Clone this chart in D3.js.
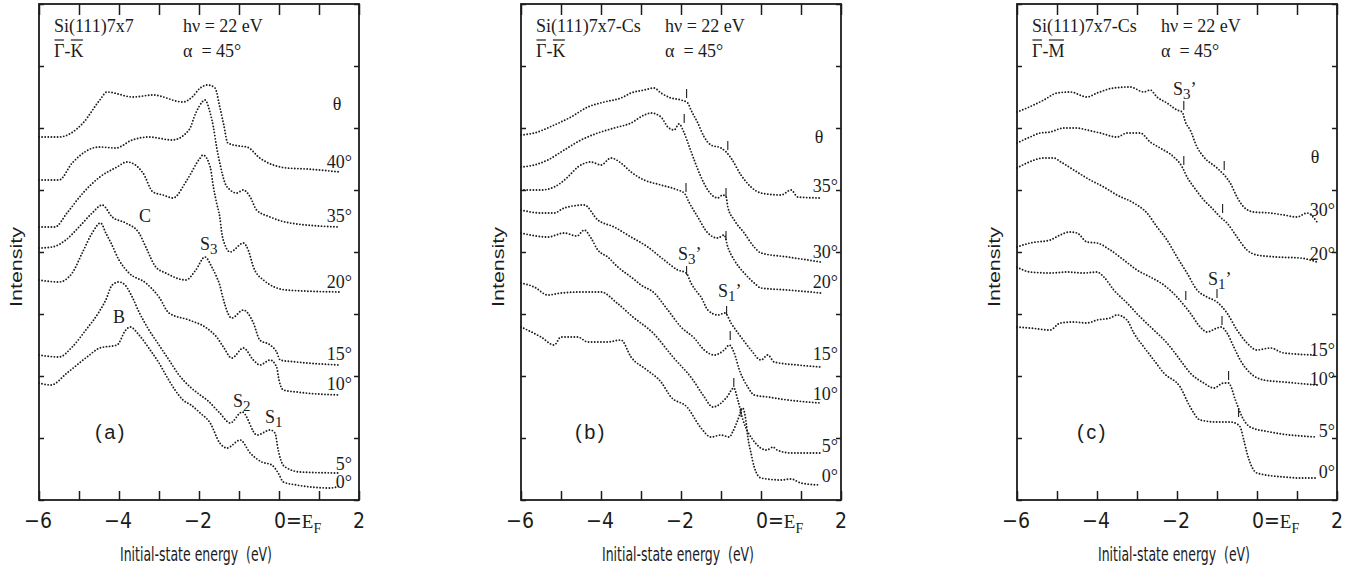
<!DOCTYPE html>
<html>
<head>
<meta charset="utf-8">
<script src="https://cdn.jsdelivr.net/npm/d3@7"></script>
<style>
  html, body { margin: 0; padding: 0; background: #fff; }
  svg { display: block; }
</style>
</head>
<body>
<svg id="chart" width="1356" height="571"></svg>
<script>
// ---- energy axis (eV, relative to E_F) ----
const energyTicks = [-6, -5, -4, -3, -2, -1, 0, 1, 2];
const energyLabels = [-6, -4, -2, 0, 2];
// intensity in arbitrary units; every spectrum carries its own vertical offset
const intensityTicks = [0, 62, 124, 186, 248, 310, 372, 434, 496];

// ---- panel (a): Si(111)7x7, Γ-K, spectra as [energy, intensity] ----
const anglesA = ["40°", "35°", "20°", "15°", "10°", "5°", "0°"];
const specA40 = [[-6,363],[-5.5,363],[-4.9,377],[-4.48,400],[-4.3,408],[-3.65,403],[-3.15,405],[-2.4,398],[-2.17,403],[-1.97,412],[-1.78,415],[-1.6,412],[-1.48,393],[-1.38,375],[-1.28,357],[-1.0,354],[-0.8,353],[-0.48,342],[0.2,332],[0.7,331],[1.52,328]];
const specA35 = [[-6,320],[-5.5,320],[-5.17,337],[-4.5,353],[-4.08,352],[-3.67,360],[-3.25,363],[-2.67,360],[-2.25,370],[-2.08,387],[-1.92,398],[-1.85,400],[-1.72,387],[-1.64,373],[-1.56,353],[-1.48,337],[-1.35,317],[-1.22,310],[-1.06,307],[-0.89,310],[-0.72,303],[-0.56,290],[-0.22,283],[0.28,277],[1.52,273]];
const specA20 = [[-6,273],[-5.6,273],[-5.3,287],[-4.9,307],[-4.48,323],[-4.05,333],[-3.8,338],[-3.4,327],[-3.15,308],[-2.9,305],[-2.65,302],[-2.3,320],[-1.97,342],[-1.9,345],[-1.72,333],[-1.64,313],[-1.56,297],[-1.48,283],[-1.43,267],[-1.35,255],[-1.22,248],[-0.89,257],[-0.77,250],[-0.64,233],[-0.39,220],[0.19,210],[1.52,208]];
const specA15 = [[-6,252],[-5.67,253],[-5.33,260],[-5,273],[-4.67,287],[-4.42,295],[-4.17,283],[-3.83,277],[-3.5,267],[-3.33,253],[-3.08,233],[-2.83,227],[-2.33,220],[-2.08,230],[-1.85,243],[-1.68,233],[-1.56,223],[-1.48,215],[-1.42,205],[-1.35,195],[-1.31,190],[-1.18,182],[-0.89,190],[-0.64,177],[-0.48,160],[-0.22,155],[-0.06,148],[0.03,140],[0.44,138],[1.52,135]];
const specA10 = [[-6,220],[-5.5,218],[-5.17,227],[-4.92,247],[-4.67,267],[-4.46,277],[-4.33,267],[-4.2,257],[-4.0,240],[-3.75,227],[-3.33,217],[-3.0,203],[-2.75,187],[-2.25,180],[-1.81,172],[-1.56,163],[-1.39,153],[-1.18,142],[-0.89,152],[-0.64,140],[-0.48,135],[-0.22,140],[-0.06,133],[0,120],[0.11,110],[0.44,108],[1.52,105]];
const specA5 = [[-6,145],[-5.5,143],[-5.17,153],[-4.83,170],[-4.5,188],[-4.33,200],[-4.17,215],[-4.0,218],[-3.85,215],[-3.67,203],[-3.5,188],[-3.25,170],[-3.0,155],[-2.75,140],[-2.5,125],[-2.22,113],[-1.97,105],[-1.8,100],[-1.48,87],[-1.22,77],[-0.92,88],[-0.55,65],[-0.22,70],[-0.1,67],[-0.02,50],[0.1,35],[0.2,32],[0.53,28],[1.52,27]];
const specA0 = [[-6,117],[-5.7,115],[-5.3,127],[-4.8,143],[-4.48,152],[-4.05,155],[-3.83,170],[-3.72,173],[-3.5,165],[-3.22,150],[-3.0,137],[-2.8,123],[-2.6,110],[-2.4,100],[-2.2,95],[-1.97,87],[-1.72,77],[-1.48,57],[-1.3,52],[-0.97,60],[-0.72,47],[-0.43,38],[-0.18,35],[-0.02,27],[0.11,18],[0.44,15],[1.28,12],[1.52,14]];
const labelLevelA = [332, 278, 212, 140, 110, 30, 12];

// ---- panel (b): Si(111)7x7-Cs, Γ-K ----
const anglesB = ["35°", "30°", "20°", "15°", "10°", "5°", "0°"];
const specB35 = [[-6,365],[-5.67,367],[-5.17,375],[-4.75,383],[-4.33,393],[-3.92,398],[-3.5,402],[-3.25,407],[-2.92,410],[-2.67,412],[-2.5,407],[-2.25,402],[-2.0,400],[-1.83,397],[-1.75,390],[-1.58,377],[-1.42,363],[-1.25,355],[-1.0,352],[-0.87,348],[-0.75,342],[-0.5,325],[-0.25,313],[0,307],[0.5,305],[0.75,310],[0.92,303],[1.5,302]];
const specB30 = [[-6,333],[-5.67,335],[-5.33,340],[-4.92,350],[-4.5,360],[-4.08,367],[-3.67,372],[-3.25,377],[-2.92,385],[-2.75,387],[-2.5,383],[-2.33,373],[-2.17,370],[-2.05,376],[-1.92,367],[-1.79,353],[-1.67,340],[-1.5,323],[-1.33,310],[-1.08,302],[-0.96,305],[-0.87,303],[-0.83,293],[-0.67,280],[-0.42,267],[-0.17,253],[0,247],[0.67,243],[1.5,238]];
const specB20 = [[-6,310],[-5.5,310],[-5.17,313],[-4.83,323],[-4.58,333],[-4.25,338],[-4.0,335],[-3.75,342],[-3.5,337],[-3.25,328],[-2.92,320],[-2.5,315],[-2.08,310],[-1.92,307],[-1.79,297],[-1.58,283],[-1.33,267],[-1.08,262],[-0.92,265],[-0.83,253],[-0.67,240],[-0.42,227],[-0.17,217],[0,212],[0.67,210],[1.5,207]];
const specB15 = [[-6,290],[-5.5,287],[-5.17,287],[-4.92,292],[-4.42,295],[-4.08,280],[-3.67,273],[-3.25,263],[-2.83,253],[-2.42,240],[-2.08,230],[-1.87,227],[-1.75,217],[-1.58,207],[-1.5,203],[-1.33,190],[-1.08,185],[-0.9,187],[-0.75,177],[-0.5,163],[-0.25,150],[0,140],[0.17,145],[0.33,138],[0.92,135],[1.5,133]];
const specB10 = [[-6,267],[-5.33,263],[-4.92,267],[-4.6,264],[-4.42,270],[-4.25,262],[-4.08,250],[-3.83,243],[-3.58,233],[-3.25,223],[-3.0,215],[-2.67,207],[-2.33,190],[-2.0,173],[-1.67,162],[-1.42,150],[-1.17,145],[-0.92,150],[-0.79,155],[-0.67,147],[-0.54,130],[-0.33,113],[-0.17,105],[0.17,103],[0.67,100],[1.5,97]];
const specB5 = [[-6,217],[-5.67,213],[-5.33,205],[-5.0,207],[-4.5,208],[-4.0,208],[-3.6,197],[-3.2,183],[-2.7,167],[-2.2,143],[-1.7,120],[-1.45,105],[-1.2,93],[-0.85,103],[-0.68,112],[-0.58,100],[-0.45,80],[-0.2,60],[0.15,50],[0.3,53],[0.4,50],[0.75,47],[1.47,47]];
const specB0 = [[-6,173],[-5.5,163],[-5.17,155],[-5.0,163],[-4.58,163],[-4.33,158],[-3.83,158],[-3.5,160],[-3.25,143],[-2.85,130],[-2.5,118],[-2.25,103],[-1.85,93],[-1.5,72],[-1.25,63],[-1.0,65],[-0.79,63],[-0.71,68],[-0.58,80],[-0.46,92],[-0.38,80],[-0.33,63],[-0.25,47],[-0.17,33],[0,22],[0.5,20],[0.75,21],[1.0,17],[1.47,15]];
const labelLevelB = [308, 242, 212, 140, 100, 48, 18];
// tick marks over S3' / S1' features: [energy, intensity at foot]
const markersB = [[-1.86,402],[-0.83,350],[-1.92,377],[-0.875,303],[-1.875,308],[-0.875,260],[-1.86,225],[-0.86,185],[-0.77,160],[-0.68,113],[-0.5,83]];

// ---- panel (c): Si(111)7x7-Cs, Γ-M ----
const anglesC = ["30°", "20°", "15°", "10°", "5°", "0°"];
const specC30 = [[-6,388],[-5.75,392],[-5.33,400],[-5.0,407],[-4.67,408],[-4.25,403],[-4.0,407],[-3.58,412],[-3.17,413],[-2.83,408],[-2.67,410],[-2.5,403],[-2.25,397],[-2.0,390],[-1.87,388],[-1.79,378],[-1.67,370],[-1.5,353],[-1.33,343],[-1.0,332],[-0.82,325],[-0.67,317],[-0.5,303],[-0.33,293],[-0.08,288],[0.33,287],[0.67,285],[1.0,283],[1.25,287],[1.5,278]];
const specC20 = [[-6,357],[-5.67,363],[-5.42,367],[-5.17,368],[-4.83,372],[-4.5,372],[-4.25,370],[-3.92,367],[-3.5,363],[-3.25,367],[-2.92,367],[-2.67,358],[-2.42,352],[-2.08,343],[-1.87,333],[-1.75,323],[-1.58,313],[-1.33,300],[-1.08,290],[-0.92,283],[-0.75,277],[-0.5,263],[-0.25,250],[0,245],[0.5,243],[1.08,242],[1.5,238]];
const specC15 = [[-6,332],[-5.75,337],[-5.33,342],[-5.08,342],[-4.9,338],[-4.58,330],[-4.17,320],[-3.83,313],[-3.5,305],[-3.08,297],[-2.75,287],[-2.5,273],[-2.25,260],[-2.0,243],[-1.75,227],[-1.5,210],[-1.25,203],[-1.0,198],[-0.75,187],[-0.5,170],[-0.25,157],[0,150],[0.33,152],[0.67,147],[1.5,145]];
const specC10 = [[-6,253],[-5.67,257],[-5.17,260],[-4.92,265],[-4.7,268],[-4.5,267],[-4.25,258],[-4.0,257],[-3.67,250],[-3.33,240],[-3.0,230],[-2.67,223],[-2.33,215],[-2.0,203],[-1.83,195],[-1.67,187],[-1.42,173],[-1.25,168],[-1.0,172],[-0.9,173],[-0.75,167],[-0.58,153],[-0.42,140],[-0.17,127],[0.17,120],[0.67,118],[1.5,115]];
const specC5 = [[-6,233],[-5.67,228],[-5.17,227],[-4.75,228],[-4.33,227],[-4.0,228],[-3.83,223],[-3.58,210],[-3.25,197],[-2.92,183],[-2.58,170],[-2.25,157],[-1.92,140],[-1.67,127],[-1.33,117],[-1.08,112],[-0.83,117],[-0.71,117],[-0.67,115],[-0.54,100],[-0.33,80],[-0.17,73],[0.33,68],[1.5,63]];
const specC0 = [[-6,173],[-5.67,172],[-5.17,170],[-4.92,177],[-4.58,178],[-4.25,177],[-4.0,180],[-3.67,182],[-3.5,185],[-3.25,180],[-3.08,167],[-2.83,153],[-2.58,140],[-2.33,127],[-1.92,113],[-1.67,93],[-1.42,80],[-1.0,78],[-0.67,78],[-0.5,76],[-0.42,73],[-0.33,60],[-0.25,47],[-0.17,37],[0,27],[0.67,23],[1.08,22],[1.5,22]];
const labelLevelC = [284, 240, 144, 115, 63, 22];
const markersC = [[-1.83,390],[-0.82,330],[-1.83,335],[-0.86,287],[-1.0,202],[-1.78,200],[-0.875,175],[-0.71,120],[-0.46,83]];

// ---- feature labels: [text, subscript, prime, energy, intensity, anchor] ----
const notesA = [["C","","",-3.35,278,"middle"],["B","","",-4.0,177,"middle"],["S","3","",-1.975,250,"start"],["S","2","",-1.15,93,"start"],["S","1","",-0.35,77,"start"]];
const notesB = [["S","3","’",-2.075,240,"start"],["S","1","’",-1.075,203,"start"]];
const notesC = [["S","3","’",-2.1,405,"start"],["S","1","’",-1.225,215,"start"]];

const panels = [
  { left: 39,   title: "Si(111)7x7",    dir: ["Γ","K"], tag: "(a)", tagE: -4.6,
    spectra: [specA40, specA35, specA20, specA15, specA10, specA5, specA0],
    angles: anglesA, levels: labelLevelA, thetaLevel: 390, labelInset: 7,
    markers: [], notes: notesA },
  { left: 521,  title: "Si(111)7x7-Cs", dir: ["Γ","K"], tag: "(b)", tagE: -4.65,
    spectra: [specB35, specB30, specB20, specB15, specB10, specB5, specB0],
    angles: anglesB, levels: labelLevelB, thetaLevel: 357, labelInset: 3,
    markers: markersB, notes: notesB },
  { left: 1017, title: "Si(111)7x7-Cs", dir: ["Γ","M"], tag: "(c)", tagE: -4.5,
    spectra: [specC30, specC20, specC15, specC10, specC5, specC0],
    angles: anglesC, levels: labelLevelC, thetaLevel: 337, labelInset: 2,
    markers: markersC, notes: notesC }
];

const panelW = 320, panelTop = 4, panelBottom = 500;
const ink = "#1c1c1c";
const serif = "'Liberation Serif','Times New Roman',serif";
const narrow = "'Liberation Sans Narrow','DejaVu Sans Condensed','Liberation Sans',sans-serif";
const sans = "'Liberation Sans',Arial,sans-serif";

const svg = d3.select("#chart");

panels.forEach(p => {
  const g = svg.append("g").attr("transform", `translate(${p.left},0)`);
  const x = d3.scaleLinear().domain([-6, 2]).range([0, panelW]);
  const y = d3.scaleLinear().domain([0, 496]).range([panelBottom, panelTop]);

  // dotted spectra
  const line = d3.line().x(d => x(d[0])).y(d => y(d[1])).curve(d3.curveMonotoneX);
  g.selectAll("path.spec").data(p.spectra).join("path")
    .attr("class", "spec")
    .attr("d", line)
    .attr("fill", "none")
    .attr("stroke", ink)
    .attr("stroke-width", 1.9)
    .attr("stroke-linecap", "round")
    .attr("stroke-dasharray", "0 3.1");

  // feature tick marks
  g.selectAll("line.mark").data(p.markers).join("line")
    .attr("class", "mark")
    .attr("x1", d => x(d[0])).attr("x2", d => x(d[0]))
    .attr("y1", d => y(d[1])).attr("y2", d => y(d[1]) - 9)
    .attr("stroke", ink).attr("stroke-width", 1.1);

  // axes: ticks pointing inward on all four sides
  const styleAxis = sel => {
    sel.select(".domain").remove();
    sel.selectAll(".tick line").attr("stroke", ink).attr("stroke-width", 1.5);
    sel.selectAll(".tick text").remove();
  };
  g.append("g").attr("transform", `translate(0,${panelBottom})`)
    .call(d3.axisBottom(x).tickValues(energyTicks).tickSize(-9)).call(styleAxis);
  g.append("g").attr("transform", `translate(0,${panelTop})`)
    .call(d3.axisTop(x).tickValues(energyTicks).tickSize(-11)).call(styleAxis);
  g.append("g")
    .call(d3.axisLeft(y).tickValues(intensityTicks).tickSize(-5)).call(styleAxis);
  g.append("g").attr("transform", `translate(${panelW},0)`)
    .call(d3.axisRight(y).tickValues(intensityTicks).tickSize(-5)).call(styleAxis);

  // frame
  g.append("rect")
    .attr("x", 0).attr("y", panelTop)
    .attr("width", panelW).attr("height", panelBottom - panelTop)
    .attr("fill", "none").attr("stroke", ink).attr("stroke-width", 1.8);

  // energy tick labels
  energyLabels.forEach(e => {
    if (e === 0) {
      const t = g.append("text")
        .attr("x", x(0) - 5).attr("y", 528)
        .attr("font-family", narrow).attr("font-size", 21).attr("fill", ink);
      t.append("tspan").text("0=");
      t.append("tspan").attr("font-family", serif).attr("font-size", 19).text("E");
      t.append("tspan").attr("font-family", serif).attr("font-size", 14).attr("dy", 5).text("F");
    } else {
      g.append("text")
        .attr("x", x(e) + (e < 0 ? -1 : 0)).attr("y", 528)
        .attr("text-anchor", "middle")
        .attr("font-family", narrow).attr("font-size", 21).attr("fill", ink)
        .text(e < 0 ? "\u2212" + Math.abs(e) : String(e));
    }
  });

  // axis titles
  g.append("text")
    .attr("x", panelW / 2 - 3).attr("y", 561)
    .attr("text-anchor", "middle")
    .attr("font-family", narrow).attr("font-size", 19).attr("fill", ink)
    .attr("textLength", 152).attr("lengthAdjust", "spacingAndGlyphs")
    .style("white-space", "pre")
    .text("Initial-state energy  (eV)");
  g.append("text")
    .attr("transform", `translate(-17,267) rotate(-90)`)
    .attr("text-anchor", "middle")
    .attr("font-family", sans).attr("font-size", 17).attr("fill", ink)
    .attr("textLength", 80).attr("lengthAdjust", "spacingAndGlyphs")
    .text("Intensity");

  // header
  g.append("text").attr("x", 15).attr("y", 32)
    .attr("font-family", serif).attr("font-size", 18).attr("fill", ink).text(p.title);
  const dirText = g.append("text").attr("x", 15).attr("y", 57)
    .attr("font-family", serif).attr("font-size", 18).attr("fill", ink);
  const s1 = dirText.append("tspan").text(p.dir[0]);
  dirText.append("tspan").text("-");
  const s2 = dirText.append("tspan").text(p.dir[1]);
  [s1, s2].forEach(s => {
    const b = s.node().getBBox();
    g.append("line")
      .attr("x1", b.x + 0.5).attr("x2", b.x + b.width - 0.5)
      .attr("y1", 40).attr("y2", 40)
      .attr("stroke", ink).attr("stroke-width", 1.2);
  });
  g.append("text").attr("x", 144).attr("y", 32)
    .attr("font-family", serif).attr("font-size", 18).attr("fill", ink).text("hν = 22 eV");
  g.append("text").attr("x", 144).attr("y", 57)
    .attr("font-family", serif).attr("font-size", 18).attr("fill", ink)
    .style("white-space", "pre").text("α  = 45°");

  // emission-angle labels
  g.selectAll("text.angle").data(p.angles).join("text")
    .attr("class", "angle")
    .attr("x", panelW - p.labelInset)
    .attr("y", (d, i) => y(p.levels[i]))
    .attr("text-anchor", "end")
    .attr("font-family", serif).attr("font-size", 18).attr("fill", ink)
    .text(d => d);
  g.append("text")
    .attr("x", x(1.45)).attr("y", y(p.thetaLevel))
    .attr("text-anchor", "middle")
    .attr("font-family", serif).attr("font-size", 18).attr("fill", ink)
    .text("θ");

  // feature labels
  p.notes.forEach(n => {
    const t = g.append("text")
      .attr("x", x(n[3])).attr("y", y(n[4]))
      .attr("text-anchor", n[5])
      .attr("font-family", serif).attr("font-size", 18).attr("fill", ink);
    t.append("tspan").text(n[0]);
    if (n[1]) t.append("tspan").attr("font-size", 15).attr("dy", 4).text(n[1]);
    if (n[2]) t.append("tspan").attr("font-size", 18).attr("dy", -4).text(n[2]);
  });

  // panel tag
  g.append("text")
    .attr("x", x(p.tagE)).attr("y", 439)
    .attr("font-family", sans).attr("font-size", 20).attr("fill", ink)
    .attr("letter-spacing", 2.5)
    .text(p.tag);
});
</script>
</body>
</html>
